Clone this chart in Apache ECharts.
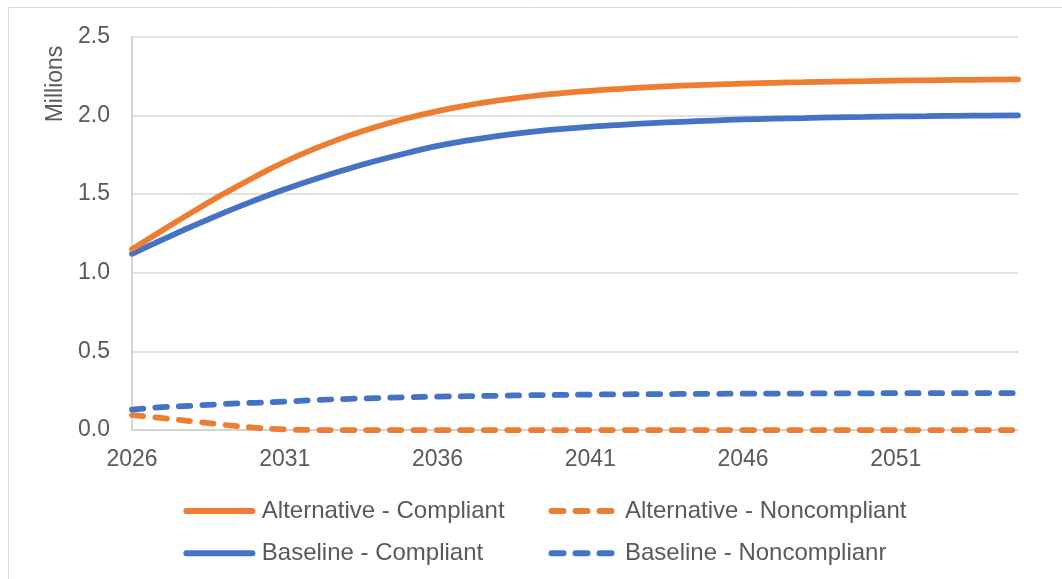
<!DOCTYPE html>
<html>
<head>
<meta charset="utf-8">
<script src="https://cdn.jsdelivr.net/npm/echarts@6/dist/echarts.min.js"></script>
<style>
  html, body { margin: 0; padding: 0; background: #ffffff; }
  #chart { width: 1062px; height: 579px; }
</style>
</head>
<body>
<div id="chart"></div>
<script>
// Years on the horizontal axis
const years = [];
for (let y = 2026; y <= 2055; y++) years.push(String(y));

// Vehicle counts, in millions
const altCompliant = [1.150, 1.270, 1.388, 1.501, 1.607, 1.705, 1.790, 1.864, 1.928, 1.982,
  2.027, 2.064, 2.095, 2.120, 2.140, 2.156, 2.169, 2.180, 2.189, 2.196,
  2.202, 2.207, 2.211, 2.215, 2.218, 2.221, 2.223, 2.225, 2.227, 2.228];
const altNoncompliant = [0.095, 0.075, 0.055, 0.033, 0.015, 0.004, 0, 0, 0, 0,
  0, 0, 0, 0, 0, 0, 0, 0, 0, 0,
  0, 0, 0, 0, 0, 0, 0, 0, 0, 0];
const baseCompliant = [1.120, 1.210, 1.297, 1.380, 1.458, 1.530, 1.596, 1.656, 1.711, 1.761,
  1.806, 1.841, 1.870, 1.894, 1.913, 1.928, 1.940, 1.950, 1.959, 1.967,
  1.974, 1.979, 1.983, 1.987, 1.990, 1.993, 1.995, 1.997, 1.999, 2.000];
const baseNoncompliant = [0.13, 0.145, 0.155, 0.165, 0.173, 0.18, 0.19, 0.197, 0.203, 0.208,
  0.212, 0.215, 0.218, 0.221, 0.223, 0.225, 0.227, 0.228, 0.229, 0.23,
  0.231, 0.232, 0.232, 0.233, 0.233, 0.234, 0.234, 0.234, 0.235, 0.235];

const seriesNames = ['Alternative - Compliant', 'Alternative - Noncompliant',
  'Baseline - Compliant', 'Baseline - Noncomplianr'];

const ORANGE = '#ED7D31';
const BLUE = '#4472C4';
const TEXT = '#595959';
const FONT = '"Liberation Sans", Arial, sans-serif';

const dashed = [11.5, 12];

function lineSeries(name, data, color, dash) {
  return {
    name: name,
    type: 'line',
    data: data,
    showSymbol: false,
    symbol: 'none',
    smooth: 0.5,
    lineStyle: { color: color, width: 5.75, type: dash ? dashed : 'solid', cap: 'round' },
    itemStyle: { color: color }
  };
}

// Legend swatches: a rounded bar for solid series, three rounded dashes for dashed ones
function roundBar(x0, x1) {
  return 'M' + (x0 + 3) + ',0L' + (x1 - 3) + ',0A3,3,0,0,1,' + (x1 - 3) + ',6L' +
    (x0 + 3) + ',6A3,3,0,0,1,' + (x0 + 3) + ',0Z';
}
const SOLID_ICON = 'path://' + roundBar(0, 72);
const DASH_ICON = 'path://' + roundBar(0, 18) + roundBar(24, 42) + roundBar(48, 66);

function legendBox(name, dash, left, rowCenter) {
  return {
    left: left,
    top: rowCenter - 12,
    padding: 0,
    itemWidth: dash ? 77 : 74.8,
    itemHeight: 6,
    selectedMode: false,
    textStyle: { color: TEXT, fontSize: 24, fontFamily: FONT, lineHeight: 24 },
    data: [{ name: name, icon: dash ? DASH_ICON : SOLID_ICON }]
  };
}

const ROW1 = 511, ROW2 = 553.3;

const chart = echarts.init(document.getElementById('chart'), null, { renderer: 'canvas' });
chart.setOption({
  animation: false,
  backgroundColor: '#ffffff',
  textStyle: { fontFamily: FONT },
  grid: { left: 132, right: 44, top: 36.7, bottom: 149, containLabel: false },
  graphic: [
    {
      type: 'rect',
      shape: { x: 8.5, y: 7.5, width: 1100, height: 640 },
      style: { fill: 'none', stroke: '#d9d9d9', lineWidth: 1 },
      silent: true
    },
    {
      type: 'text',
      x: 56,
      y: 84,
      rotation: Math.PI / 2,
      style: {
        text: 'Millions',
        fill: TEXT,
        font: '23px ' + FONT,
        align: 'center',
        verticalAlign: 'middle'
      }
    }
  ],
  legend: [
    legendBox(seriesNames[0], false, 183.4, ROW1),
    legendBox(seriesNames[1], true, 548.5, ROW1),
    legendBox(seriesNames[2], false, 183.4, ROW2),
    legendBox(seriesNames[3], true, 548.5, ROW2)
  ],
  xAxis: {
    type: 'category',
    data: years,
    boundaryGap: false,
    axisLine: { show: true, lineStyle: { color: '#d0d0d0', width: 1.5 } },
    axisTick: { show: false },
    axisLabel: {
      interval: 4,
      color: TEXT,
      fontSize: 23,
      fontFamily: FONT,
      margin: 18
    },
    splitLine: { show: false }
  },
  yAxis: {
    type: 'value',
    min: 0,
    max: 2.5,
    interval: 0.5,
    axisLine: { show: true, lineStyle: { color: '#c8c8c8', width: 1.5 } },
    axisTick: { show: false },
    axisLabel: {
      color: TEXT,
      fontSize: 23,
      fontFamily: FONT,
      margin: 22,
      formatter: v => v.toFixed(1)
    },
    splitLine: { lineStyle: { color: '#d9d9d9', width: 1.5 } }
  },
  series: [
    lineSeries(seriesNames[1], altNoncompliant, ORANGE, true),
    lineSeries(seriesNames[3], baseNoncompliant, BLUE, true),
    lineSeries(seriesNames[2], baseCompliant, BLUE, false),
    lineSeries(seriesNames[0], altCompliant, ORANGE, false)
  ]
});
</script>
</body>
</html>
